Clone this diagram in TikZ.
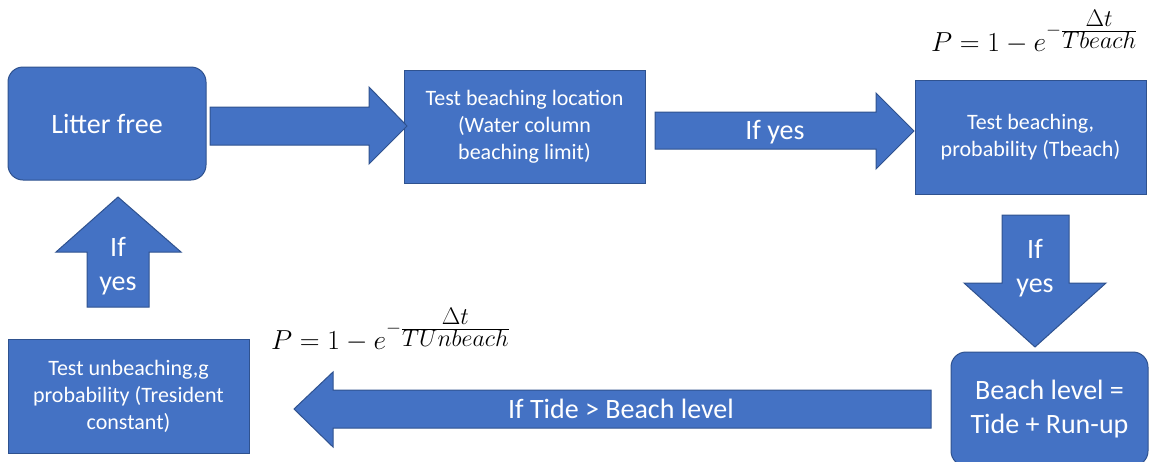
\RequirePackage{fix-cm}
\documentclass[tikz,border=0pt]{standalone}
\usepackage{fontspec}
\setmainfont{Carlito}
\definecolor{boxfill}{HTML}{4472C4}
\definecolor{boxline}{HTML}{2F528F}
\newcommand{\fracpart}[2]{\raisebox{#1}{\fontsize{24}{24}\selectfont$#2$}}
\tikzset{
  shapebox/.style={draw=boxline, fill=boxfill, line width=1pt, text=white, align=center, inner sep=0pt},
  roundbox/.style={shapebox, rounded corners=15pt},
  blockarrow/.style={draw=boxline, fill=boxfill, line width=1pt, line join=miter},
  arrowtext/.style={text=white, align=center, font=\fontsize{28}{34}\selectfont, inner sep=0pt},
  boxtext/.style={font=\fontsize{22}{27}\selectfont},
  bigtext/.style={font=\fontsize{28}{34}\selectfont},
  formula/.style={anchor=base west, inner sep=0pt, font=\fontsize{27.5}{32}\selectfont}
}
\begin{document}
\begin{tikzpicture}[x=1pt, y=-1pt]
\useasboundingbox (0,0) rectangle (1150,461);
% boxes
\node[roundbox, bigtext, minimum width=198pt, minimum height=113pt] (lf) at (107,123.5) {Litter free};
\node[shapebox, boxtext, minimum width=241pt, minimum height=113pt] (b2) at (524.5,126.5) {Test beaching location\\(Water column\\beaching limit)};
\node[shapebox, boxtext, minimum width=231pt, minimum height=114pt] (b3) at (1030.5,137) {Test beaching,\\probability (Tbeach)};
\node[roundbox, bigtext, minimum width=197pt, minimum height=114pt] (bl) at (1049.5,409) {Beach level =\\Tide + Run-up};
\node[shapebox, boxtext, minimum width=241pt, minimum height=114pt] (ub) at (128.5,396) {Test unbeaching,g\\probability (Tresident\\constant)};
% block arrows
\draw[blockarrow] (210,107) -- (369,107) -- (369,87) -- (407,126) -- (369,164) -- (369,145) -- (210,145) -- cycle;
\draw[blockarrow] (655,112) -- (876,112) -- (876,93) -- (914,131) -- (876,169) -- (876,149) -- (655,149) -- cycle;
\draw[blockarrow] (1002,215) -- (1069,215) -- (1069,283) -- (1106,283) -- (1035,347) -- (964,283) -- (1002,283) -- cycle;
\draw[blockarrow] (931,390) -- (333,390) -- (333,372) -- (294,409) -- (333,447) -- (333,428) -- (931,428) -- cycle;
\draw[blockarrow] (87,307) -- (87,252) -- (56,252) -- (118,197) -- (181,252) -- (149,252) -- (149,307) -- cycle;
% arrow labels
\node[arrowtext] (l2) at (775,132) {If yes};
\node[arrowtext] (ld) at (1035,268) {If\\yes};
\node[arrowtext] (lt) at (621,409) {If Tide > Beach level};
\node[arrowtext] (lu) at (118,266) {If\\yes};
% formulas
\node[formula] (f1) at (931,51) {$P = 1 - e^{-\frac{\fracpart{2pt}{\Delta t}}{\fracpart{-2pt}{Tbeach}}}$};
\node[formula] (f2) at (271,349) {$P = 1 - e^{-\frac{\fracpart{2pt}{\Delta t}}{\fracpart{-2pt}{TUnbeach}}}$};
\end{tikzpicture}
\end{document}
